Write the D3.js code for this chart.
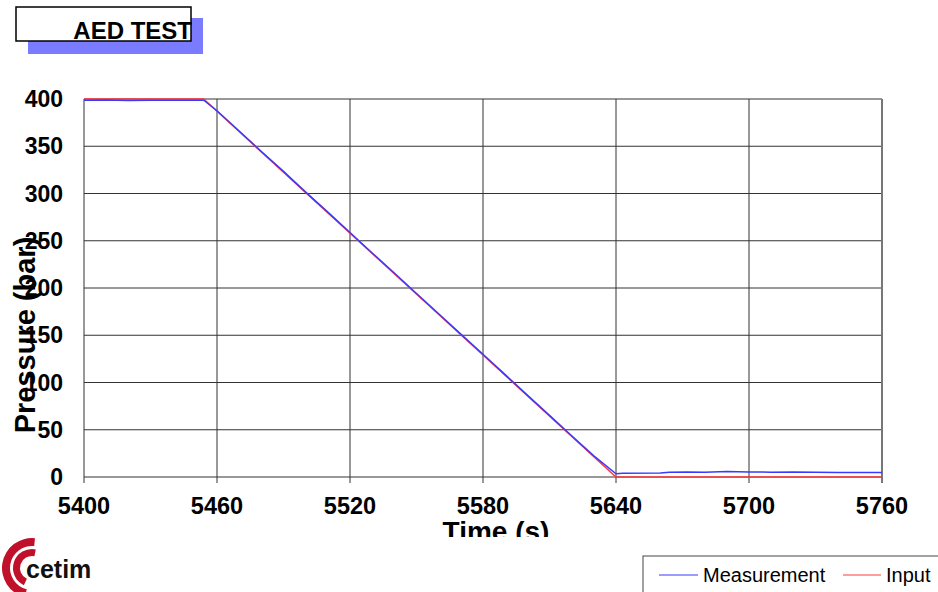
<!DOCTYPE html>
<html>
<head>
<meta charset="utf-8">
<script src="https://cdn.jsdelivr.net/npm/d3@7"></script>
<style>
  body { margin: 0; background: #fff; }
  text { font-family: Arial, "Liberation Sans", sans-serif; }
</style>
</head>
<body>
<svg id="chart" width="938" height="592"></svg>
<script>
// data
const xTicks = [5400, 5460, 5520, 5580, 5640, 5700, 5760];
const yTicks = [0, 50, 100, 150, 200, 250, 300, 350, 400];

const measurementTime = [5400, 5410, 5420, 5430, 5440, 5454, 5460, 5470, 5480, 5490, 5500, 5510, 5520, 5530, 5540, 5550, 5560, 5570, 5580, 5590, 5600, 5610, 5620, 5630, 5640, 5643, 5660, 5664, 5672, 5680, 5690, 5700, 5710, 5720, 5730, 5740, 5750, 5760];
const measurementValue = [398.6, 398.9, 398.5, 398.7, 398.8, 398.8, 387.6, 366.2, 344.5, 323.4, 301.5, 280.3, 258.8, 237.1, 215.9, 194.2, 172.8, 151.2, 129.9, 108.3, 86.6, 65.2, 43.7, 22.4, 3.4, 4.0, 4.2, 4.9, 5.3, 5.1, 5.8, 5.3, 5.1, 5.4, 4.9, 4.8, 4.8, 4.8];

const inputTime = [5400, 5454, 5640, 5760];
const inputValue = [400, 400, 0, 0];

const svg = d3.select("#chart");
const plotLeft = 84, plotRight = 882, plotTop = 99, plotBottom = 477;

const x = d3.scaleLinear().domain([5400, 5760]).range([plotLeft, plotRight]);
const y = d3.scaleLinear().domain([0, 400]).range([plotBottom, plotTop]);

// header box
svg.append("rect").attr("x", 28).attr("y", 18).attr("width", 175).attr("height", 36).attr("fill", "#7b7bff");
svg.append("rect").attr("x", 16).attr("y", 7).attr("width", 175).attr("height", 34)
  .attr("fill", "#fff").attr("stroke", "#000").attr("stroke-width", 1.5);
svg.append("text").attr("x", 192).attr("y", 39).attr("text-anchor", "end")
  .attr("font-size", 24).attr("font-weight", "bold").text("AED TEST");

// grid
const grid = svg.append("g");
grid.selectAll(".h").data(yTicks).join("line")
  .attr("x1", plotLeft).attr("x2", plotRight)
  .attr("y1", d => y(d)).attr("y2", d => y(d))
  .attr("stroke", "#333").attr("stroke-width", 1);
grid.selectAll(".v").data(xTicks).join("line")
  .attr("x1", d => x(d)).attr("x2", d => x(d))
  .attr("y1", plotTop).attr("y2", plotBottom + 6)
  .attr("stroke", "#333").attr("stroke-width", 1);
grid.append("line").attr("x1", plotRight).attr("x2", plotRight).attr("y1", plotTop).attr("y2", plotBottom + 6)
  .attr("stroke", "#777").attr("stroke-width", 2);

// tick labels
svg.append("g").selectAll("text").data(yTicks).join("text")
  .attr("x", 63).attr("y", d => y(d) + 8).attr("text-anchor", "end")
  .attr("font-size", 23).attr("font-weight", "bold").text(d => d);
svg.append("g").selectAll("text").data(xTicks).join("text")
  .attr("x", d => x(d)).attr("y", 514).attr("text-anchor", "middle")
  .attr("font-size", 23.5).attr("font-weight", "bold").text(d => d);

// axis titles
svg.append("clipPath").attr("id", "cut").append("rect")
  .attr("x", 0).attr("y", 0).attr("width", 938).attr("height", 537);
svg.append("text").attr("clip-path", "url(#cut)")
  .attr("x", 496).attr("y", 541).attr("text-anchor", "middle")
  .attr("font-size", 28).attr("font-weight", "bold").text("Time (s)");
svg.append("text")
  .attr("transform", "translate(35,335) rotate(-90)").attr("text-anchor", "middle")
  .attr("font-size", 29).attr("font-weight", "bold").text("Pressure (bar)");

// series
const line = d3.line().x(d => x(d[0])).y(d => y(d[1]));
svg.append("path").datum(d3.zip(inputTime, inputValue))
  .attr("d", line).attr("fill", "none").attr("stroke", "#ff3a3a").attr("stroke-width", 1.5);
svg.append("path").datum(d3.zip(measurementTime, measurementValue))
  .attr("d", line).attr("fill", "none").attr("stroke", "#3a3aff").attr("stroke-width", 1.5);

// legend
const lg = svg.append("g");
lg.append("rect").attr("x", 643).attr("y", 556).attr("width", 300).attr("height", 40)
  .attr("fill", "#fff").attr("stroke", "#444").attr("stroke-width", 1);
lg.append("line").attr("x1", 659).attr("x2", 698).attr("y1", 575).attr("y2", 575)
  .attr("stroke", "#3a3aff").attr("stroke-width", 1.2);
lg.append("text").attr("x", 703).attr("y", 582).attr("font-size", 20).text("Measurement");
lg.append("line").attr("x1", 843).attr("x2", 881).attr("y1", 575).attr("y2", 575)
  .attr("stroke", "#ff3a3a").attr("stroke-width", 1.2);
lg.append("text").attr("x", 886).attr("y", 582).attr("font-size", 20).text("Input");

// cetim logo
const logo = svg.append("g").attr("transform", "translate(32,568)");
const arc = d3.arc();
logo.append("path").attr("fill", "#c0102a")
  .attr("d", arc({innerRadius: 22, outerRadius: 30, startAngle: 0.1, endAngle: -2.9}));
logo.append("path").attr("fill", "#c0102a")
  .attr("d", arc({innerRadius: 12, outerRadius: 19, startAngle: 0.2, endAngle: -2.7}));
svg.append("text").attr("x", 26).attr("y", 578)
  .attr("font-size", 25).attr("font-weight", "bold").attr("fill", "#111").text("cetim");
</script>
</body>
</html>
